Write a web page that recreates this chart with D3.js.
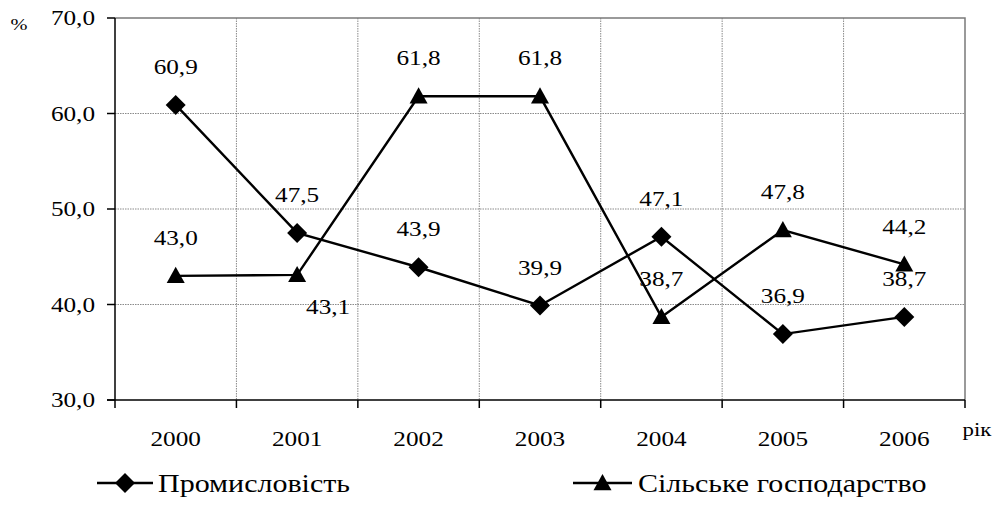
<!DOCTYPE html>
<html><head><meta charset="utf-8">
<script src="https://cdn.jsdelivr.net/npm/d3@7"></script>
<style>body{margin:0;background:#fff}svg{display:block}</style>
</head><body><svg id="c" width="1001" height="506"></svg>
<script>
const years = ["2000","2001","2002","2003","2004","2005","2006"];
const industry = [60.9, 47.5, 43.9, 39.9, 47.1, 36.9, 38.7];
const agriculture = [43.0, 43.1, 61.8, 61.8, 38.7, 47.8, 44.2];
const yTicks = [30, 40, 50, 60, 70];
const seriesNames = ["Промисловість", "Сільське господарство"];
const yUnit = "%";
const xUnit = "рік";

const svg = d3.select("#c");
const L = 115, R = 965, T = 18, B = 400;
const SX = 1.2;
const x = d3.scaleBand().domain(years).range([L, R]);
const y = d3.scaleLinear().domain([30, 70]).range([B, T]);
const fmt = v => v.toFixed(1).replace(".", ",");

function txt(g, s, px, py, size, anchor) {
  const t = g.append("text").attr("x", px).attr("y", py + size * 0.34)
    .style("font-family", '"Liberation Serif"')
    .style("font-size", size + "px")
    .attr("fill", "#000")
    .attr("text-anchor", anchor || "middle").text(s);
  const w = t.node().getComputedTextLength();
  t.attr("textLength", w * SX).attr("lengthAdjust", "spacingAndGlyphs");
  return t;
}

// grid
const grid = svg.append("g");
yTicks.filter(v => v > 30 && v < 70).forEach(v => {
  grid.append("line").attr("x1", L).attr("x2", R).attr("y1", y(v)).attr("y2", y(v))
    .attr("stroke", "#8a8a8a").attr("stroke-width", 1).attr("stroke-dasharray", "1.5,1");
});
years.slice(1).forEach(yr => {
  grid.append("line").attr("x1", x(yr)).attr("x2", x(yr)).attr("y1", T).attr("y2", B)
    .attr("stroke", "#8a8a8a").attr("stroke-width", 1).attr("stroke-dasharray", "1.5,1");
});
svg.append("path").attr("d", `M${L},${T}H${R}V${B}`).attr("fill", "none").attr("stroke", "#7a7a7a").attr("stroke-width", 1.5);

// axes
const ax = svg.append("g");
ax.append("line").attr("x1", L).attr("x2", L).attr("y1", T).attr("y2", B + 8).attr("stroke", "#000").attr("stroke-width", 1.5);
ax.append("line").attr("x1", L - 8).attr("x2", R).attr("y1", B).attr("y2", B).attr("stroke", "#000").attr("stroke-width", 1.5);
yTicks.forEach(v => {
  ax.append("line").attr("x1", L - 8).attr("x2", L).attr("y1", y(v)).attr("y2", y(v)).attr("stroke", "#000").attr("stroke-width", 1.5);
  txt(ax, fmt(v), 95, y(v), 21, "end");
});
years.forEach(yr => {
  const bx = x(yr) + x.bandwidth();
  ax.append("line").attr("x1", bx).attr("x2", bx).attr("y1", B).attr("y2", B + 8).attr("stroke", "#000").attr("stroke-width", 1.5);
  txt(ax, yr, x(yr) + x.bandwidth() / 2, 439, 21);
});
txt(ax, yUnit, 19, 24, 17);
txt(ax, xUnit, 977, 430, 19);

const cx = yr => x(yr) + x.bandwidth() / 2;
const diamond = r => `M0,${-r}L${r},0L0,${r}L${-r},0Z`;
const tri = r => `M0,${-r}L${r},${r * 0.8}L${-r},${r * 0.8}Z`;

function drawSeries(vals, shape) {
  const g = svg.append("g");
  const line = d3.line().x((d, i) => cx(years[i])).y(d => y(d));
  g.append("path").attr("d", line(vals)).attr("fill", "none").attr("stroke", "#000").attr("stroke-width", 2.4);
  vals.forEach((v, i) => {
    g.append("path").attr("d", shape).attr("transform", `translate(${cx(years[i])},${y(v)})`).attr("fill", "#000");
  });
}
drawSeries(industry, diamond(10));
drawSeries(agriculture, tri(9));

// data labels
const lab = svg.append("g");
industry.forEach((v, i) => txt(lab, fmt(v), cx(years[i]), y(v) - 38, 21));
agriculture.forEach((v, i) => {
  if (i === 1) txt(lab, fmt(v), cx(years[i]) + 31, y(v) + 32, 21);
  else txt(lab, fmt(v), cx(years[i]), y(v) - 38, 21);
});

// legend
const lg = svg.append("g");
const legendItems = [
  {x1: 97, x2: 153, name: seriesNames[0], shape: diamond(10), tx: 158},
  {x1: 573, x2: 632, name: seriesNames[1], shape: tri(9), tx: 638}
];
legendItems.forEach(it => {
  lg.append("line").attr("x1", it.x1).attr("x2", it.x2).attr("y1", 483).attr("y2", 483).attr("stroke", "#000").attr("stroke-width", 2.4);
  lg.append("path").attr("d", it.shape).attr("transform", `translate(${(it.x1 + it.x2) / 2},483)`).attr("fill", "#000");
  txt(lg, it.name, it.tx, 483, 25, "start");
});
</script></body></html>
